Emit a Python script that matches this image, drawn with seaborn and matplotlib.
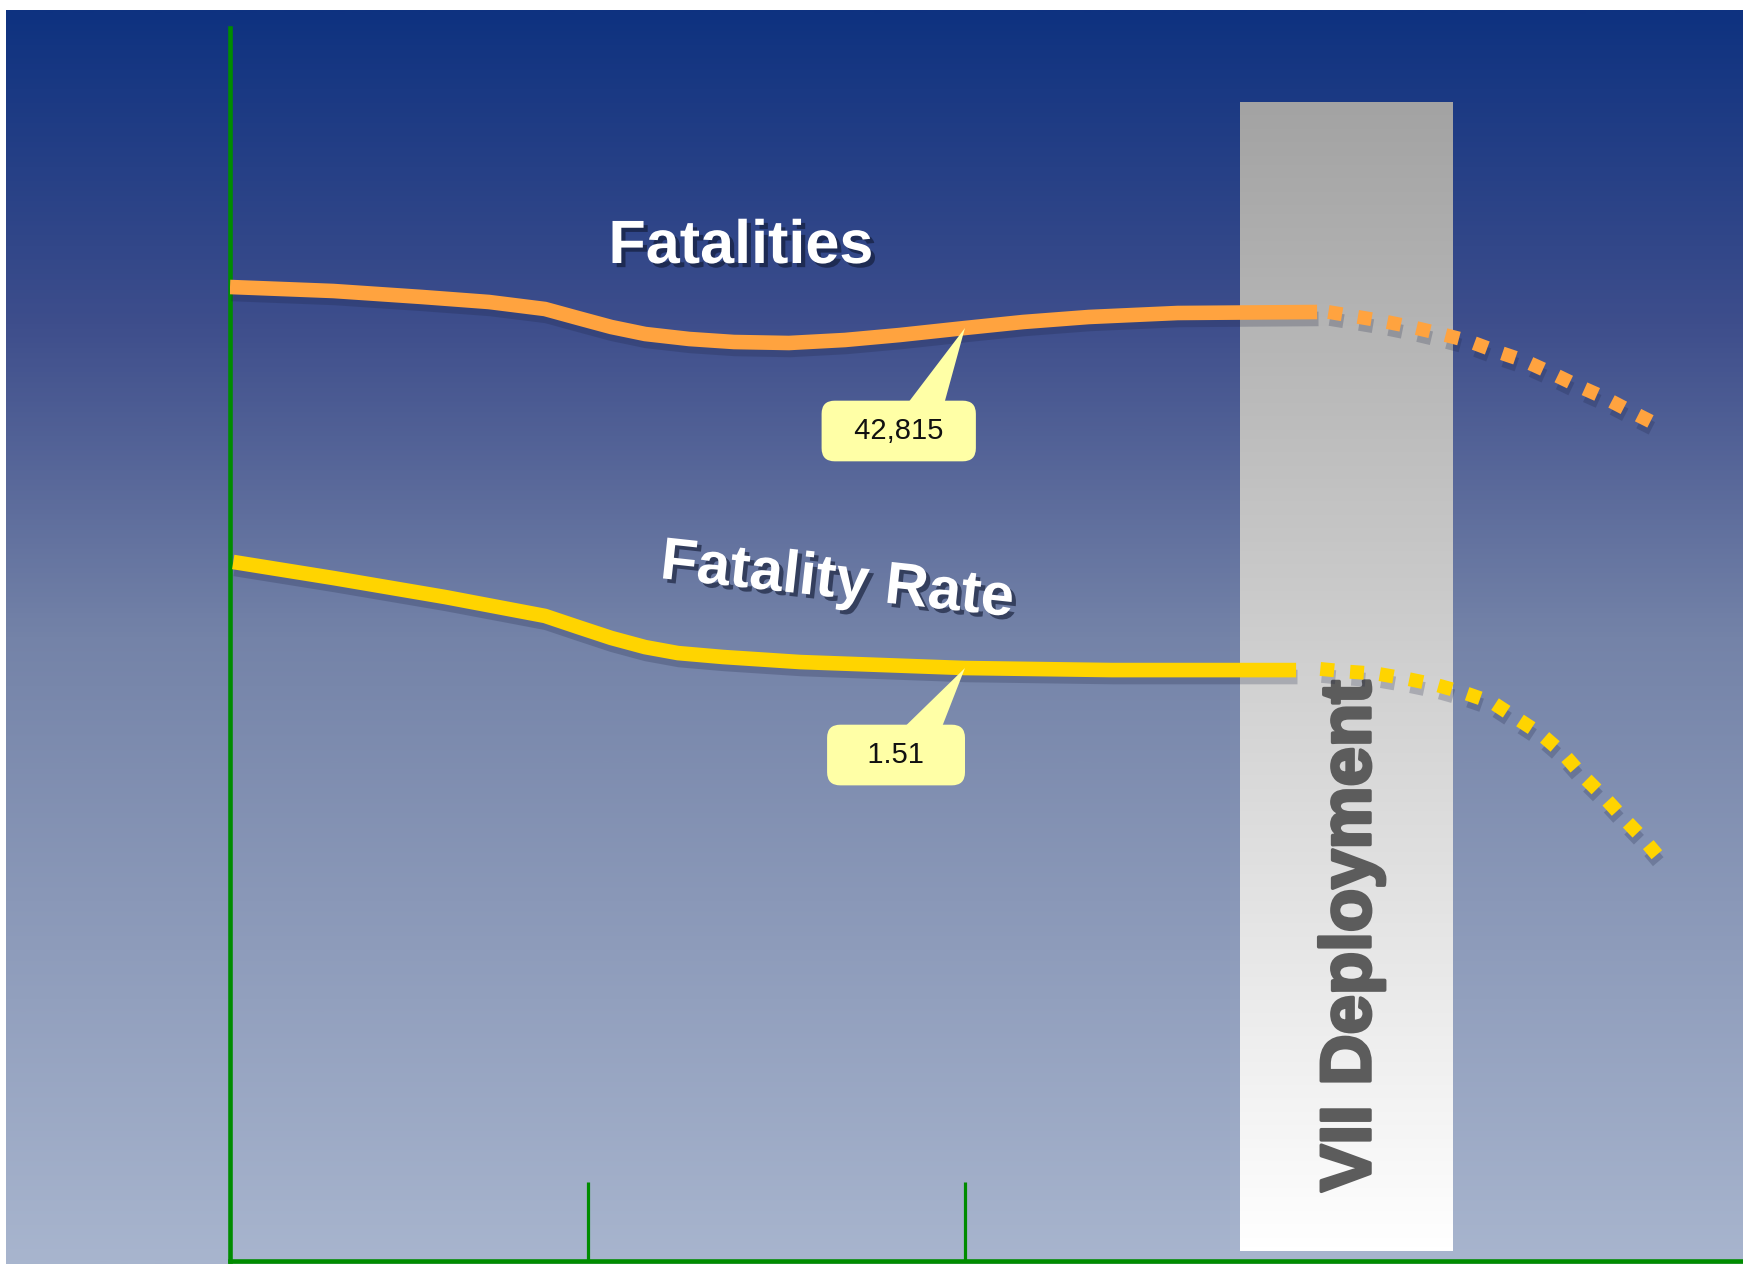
import numpy as np
import seaborn as sns
import matplotlib.pyplot as plt
import matplotlib.patheffects as pe
from matplotlib.colors import LinearSegmentedColormap

# Veriler
fat_years = [1988.35, 1990.27, 1991.92, 1993.16, 1994.2, 1994.81, 1995.43, 1996.06, 1996.88,
             1997.71, 1998.73, 1999.77, 2000.79, 2002.0, 2003.08, 2004.3, 2005.95, 2008.54]
fat_values = [44660, 44480, 44210, 43985, 43670, 43265, 42860, 42545, 42320,
              42185, 42140, 42275, 42500, 42815, 43085, 43310, 43490, 43535]

fat_proj_years = [2008.75, 2009.2, 2009.75, 2010.3, 2010.85, 2011.35, 2011.85,
                  2012.4, 2012.85, 2013.35, 2013.85, 2014.35, 2014.9]
fat_proj_values = [43535, 43355, 43130, 42860, 42545, 42230, 41780,
                   41330, 40835, 40250, 39710, 39080, 38405]

rate_years = [1988.41, 1990.27, 1992.35, 1994.2, 1994.81, 1995.43, 1996.06, 1996.67,
              1997.51, 1998.94, 2002.0, 2004.73, 2008.15]
rate_values = [2.078, 1.992, 1.89, 1.789, 1.73, 1.671, 1.622, 1.59,
               1.569, 1.542, 1.51, 1.499, 1.499]

rate_proj_years = [2008.6, 2009.15, 2009.65, 2010.25, 2010.75, 2011.3, 2011.8, 2012.25,
                   2012.7, 2013.1, 2013.45, 2013.85, 2014.2, 2014.6, 2014.85]
rate_proj_values = [1.505, 1.49, 1.48, 1.45, 1.42, 1.375, 1.325, 1.24,
                    1.155, 1.055, 0.94, 0.825, 0.715, 0.595, 0.51]

tick_years = [1995, 2002]
deploy_years = [2007.1, 2011.05]

fat_label = "42,815"
rate_label = "1.51"
label_year = 2002.0

ORANGE = "#FFA33F"
YELLOW = "#FFD400"
GREEN = "#008C00"
BOX = "#FFFFA6"

sns.set_style("white")
plt.rcParams['font.family'] = ['Liberation Sans', 'DejaVu Sans']

W, H = 1743, 1264
fig = plt.figure(figsize=(W / 100, H / 100), dpi=100)
fig.patch.set_facecolor("white")

# Arka plan gradyani
bg = fig.add_axes([6 / W, 0, 1 - 6 / W, 1 - 10 / H])
bg_cmap = LinearSegmentedColormap.from_list(
    "bg", [(0.0, (14 / 255, 50 / 255, 128 / 255)),
           (0.25, (62 / 255, 78 / 255, 140 / 255)),
           (0.5, (116 / 255, 131 / 255, 168 / 255)),
           (1.0, (168 / 255, 181 / 255, 206 / 255))])
bg.imshow(np.linspace(0, 1, 512).reshape(-1, 1), aspect='auto', cmap=bg_cmap,
          extent=[0, 1, 0, 1], origin='upper')
bg.axis('off')

ax = fig.add_axes([230 / W, 3 / H, 1 - 230 / W, (1261 - 28) / H])
ax.set_facecolor('none')

# VII Deployment bandi
band_cmap = LinearSegmentedColormap.from_list("band", ["#A3A3A3", "#FFFFFF"])
ax.imshow(np.linspace(0, 1, 256).reshape(-1, 1), aspect='auto', cmap=band_cmap,
          extent=[deploy_years[0], deploy_years[1], 1280, 52940], origin='upper', zorder=1)

shadow = [pe.SimpleLineShadow(offset=(1, -5), shadow_color='#1a2040', alpha=0.22), pe.Normal()]
LW = 10.5

sns.lineplot(x=fat_years, y=fat_values, ax=ax, color=ORANGE, linewidth=LW, sort=False,
             solid_capstyle='butt', solid_joinstyle='round', path_effects=shadow, zorder=3)
sns.lineplot(x=fat_proj_years, y=fat_proj_values, ax=ax, color=ORANGE, linewidth=LW - 0.5,
             sort=False, linestyle=(0, (1.0, 1.15)), dash_capstyle='butt',
             path_effects=shadow, zorder=3)

ax.set_xlim(1988.35, 2016.45)
ax.set_ylim(830, 56315)
ax.set_xticks(tick_years)
ax.set_yticks([])
ax.tick_params(axis='x', bottom=True, direction='in', length=57, width=2.3, color=GREEN,
               labelbottom=False)
for side in ['top', 'right']:
    ax.spines[side].set_visible(False)
for side in ['left', 'bottom']:
    ax.spines[side].set_color(GREEN)
    ax.spines[side].set_linewidth(3.3)
ax.set_xlabel("")
ax.set_ylabel("")

ax.annotate("  " + fat_label + "  ", xy=(label_year, fat_values[fat_years.index(label_year)]),
            xytext=(2000.77, 38180), textcoords='data', ha='center', va='center',
            fontsize=21, color='#111111', zorder=4,
            bbox=dict(boxstyle='round,pad=0.56,rounding_size=0.45', fc=BOX, ec='none'),
            arrowprops=dict(arrowstyle='wedge,tail_width=1.4', fc=BOX, ec='none',
                            patchA=None, shrinkA=0, shrinkB=0, relpos=(0.66, 0.8)))

ax.text(1370 / W, 1 - 936 / H, "VII Deployment", transform=fig.transFigure,
        rotation=90, rotation_mode='anchor', ha='center', va='baseline',
        fontsize=51, fontweight='bold', color='#5C5C5C', zorder=2,
        path_effects=[pe.withStroke(linewidth=2.5, foreground='#5C5C5C')])

# Oran ekseni
ax2 = ax.twinx()
ax2.set_ylim(-1.666, 4.938)
ax2.set_yticks([])
for side in ax2.spines:
    ax2.spines[side].set_visible(False)

sns.lineplot(x=rate_years, y=rate_values, ax=ax2, color=YELLOW, linewidth=LW, sort=False,
             solid_capstyle='butt', solid_joinstyle='round', path_effects=shadow, zorder=3)
sns.lineplot(x=rate_proj_years, y=rate_proj_values, ax=ax2, color=YELLOW, linewidth=LW - 0.5,
             sort=False, linestyle=(0, (1.0, 1.15)), dash_capstyle='butt',
             path_effects=shadow, zorder=3)
ax2.set_xlim(1988.35, 2016.45)
ax2.set_ylabel("")

ax2.annotate("   " + rate_label + "   ", xy=(label_year, rate_values[rate_years.index(label_year)]),
             xytext=(2000.72, 1.044), textcoords='data', ha='center', va='center',
             fontsize=21, color='#111111', zorder=4,
             bbox=dict(boxstyle='round,pad=0.56,rounding_size=0.45', fc=BOX, ec='none'),
             arrowprops=dict(arrowstyle='wedge,tail_width=1.4', fc=BOX, ec='none',
                             patchA=None, shrinkA=0, shrinkB=0, relpos=(0.66, 0.8)))

txt_shadow = [pe.withSimplePatchShadow(offset=(3, -3), shadow_rgbFace='#101830', alpha=0.6)]
fig.text(741 / W, 1 - 263 / H, "Fatalities", ha='center', va='baseline', fontsize=44,
         fontweight='bold', color='white', path_effects=txt_shadow)
fig.text(659 / W, 1 - 578 / H, "Fatality Rate", ha='left', va='baseline', fontsize=43,
         fontweight='bold', color='white', rotation=-6.2, rotation_mode='anchor',
         path_effects=txt_shadow)

plt.savefig("out.png", dpi=100)
